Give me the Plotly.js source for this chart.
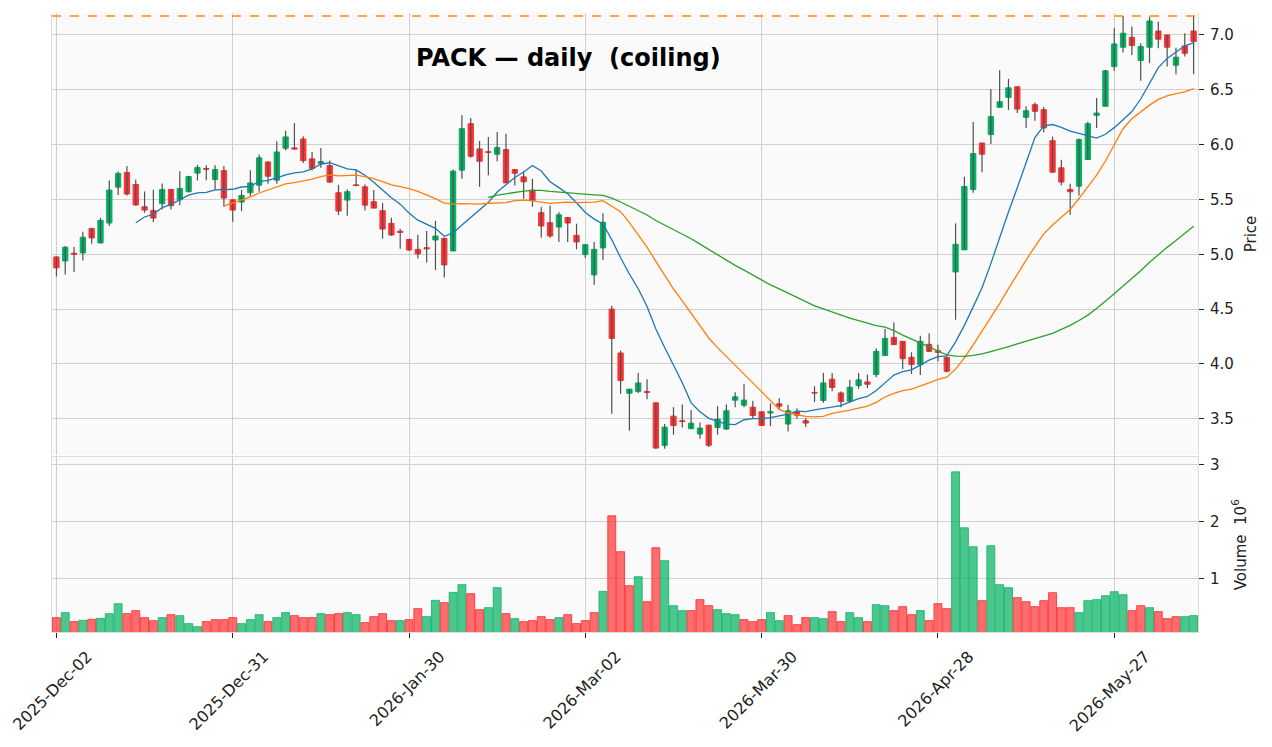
<!DOCTYPE html>
<html>
<head>
<meta charset="utf-8">
<script src="https://cdn.plot.ly/plotly-3.0.1.min.js"></script>
<style>
  html, body { margin: 0; padding: 0; background: #ffffff; }
  #chart { width: 1272px; height: 747px; }
</style>
</head>
<body>
<div id="chart"></div>
<script>
// daily OHLC, one entry per trading day (index 0 = 2025-Dec-02)
var opens = [
  4.976, 4.939, 5.010, 5.012, 5.236, 5.103, 5.285, 5.612, 5.746, 5.636,
  5.433, 5.400, 5.461, 5.591, 5.497, 5.570, 5.740, 5.782, 5.682, 5.764,
  5.497, 5.476, 5.561, 5.630, 5.842, 5.676, 5.967, 5.970, 6.051, 5.870,
  5.827, 5.809, 5.561, 5.494, 5.633, 5.615, 5.479, 5.397, 5.282, 5.210,
  5.136, 5.045, 5.060, 5.130, 5.145, 5.030, 5.767, 6.191, 5.961, 5.935,
  5.912, 5.955, 5.773, 5.706, 5.585, 5.379, 5.288, 5.248, 5.336, 5.173,
  4.997, 4.812, 5.058, 4.500, 4.100, 3.733, 3.748, 3.748, 3.645, 3.258,
  3.524, 3.482, 3.409, 3.361, 3.442, 3.421, 3.406, 3.670, 3.624, 3.606,
  3.564, 3.552, 3.636, 3.452, 3.561, 3.482, 3.740, 3.667, 3.861, 3.736,
  3.661, 3.803, 3.836, 3.903, 4.076, 4.242, 4.206, 4.061, 3.994, 4.179,
  4.121, 4.061, 4.839, 5.040, 5.591, 6.015, 6.091, 6.340, 6.430, 6.527,
  6.249, 6.364, 6.318, 6.036, 5.788, 5.591, 5.621, 5.864, 6.267, 6.349,
  6.712, 6.888, 6.979, 6.767, 6.888, 7.036, 7.000, 6.724, 6.900, 7.036
];
var highs = [
  4.980, 5.076, 5.067, 5.206, 5.240, 5.333, 5.673, 5.755, 5.806, 5.682,
  5.573, 5.588, 5.646, 5.595, 5.758, 5.715, 5.815, 5.812, 5.812, 5.806,
  5.500, 5.585, 5.767, 5.909, 5.845, 6.030, 6.127, 6.197, 6.076, 5.933,
  5.970, 5.854, 5.633, 5.591, 5.773, 5.636, 5.585, 5.469, 5.333, 5.233,
  5.140, 5.179, 5.212, 5.306, 5.150, 5.773, 6.267, 6.242, 6.033, 6.070,
  6.115, 6.100, 5.775, 5.757, 5.688, 5.433, 5.445, 5.385, 5.340, 5.279,
  5.090, 5.112, 5.373, 4.530, 4.121, 3.770, 3.918, 3.861, 3.645, 3.452,
  3.606, 3.630, 3.579, 3.467, 3.445, 3.615, 3.630, 3.742, 3.815, 3.664,
  3.565, 3.639, 3.688, 3.627, 3.597, 3.506, 3.797, 3.918, 3.918, 3.748,
  3.855, 3.918, 3.903, 4.142, 4.318, 4.379, 4.210, 4.106, 4.258, 4.279,
  4.176, 4.065, 5.282, 5.706, 6.206, 6.015, 6.506, 6.679, 6.600, 6.533,
  6.349, 6.385, 6.343, 6.073, 5.861, 5.642, 6.055, 6.209, 6.424, 6.682,
  7.061, 7.173, 7.076, 6.924, 7.167, 7.121, 7.000, 6.882, 7.015, 7.173
];
var lows = [
  4.797, 4.815, 4.839, 4.943, 5.097, 5.100, 5.258, 5.540, 5.537, 5.445,
  5.379, 5.294, 5.409, 5.409, 5.446, 5.565, 5.673, 5.676, 5.591, 5.433,
  5.297, 5.394, 5.530, 5.570, 5.642, 5.642, 5.948, 5.958, 5.833, 5.764,
  5.788, 5.651, 5.357, 5.351, 5.620, 5.400, 5.420, 5.142, 5.170, 5.051,
  5.030, 4.961, 4.924, 4.857, 4.788, 5.030, 5.688, 5.879, 5.615, 5.721,
  5.848, 5.650, 5.627, 5.506, 5.433, 5.151, 5.151, 5.112, 5.112, 5.045,
  4.967, 4.721, 4.948, 3.545, 3.727, 3.391, 3.736, 3.679, 3.227, 3.227,
  3.355, 3.421, 3.409, 3.318, 3.242, 3.355, 3.400, 3.606, 3.606, 3.500,
  3.439, 3.433, 3.582, 3.385, 3.500, 3.424, 3.652, 3.645, 3.752, 3.606,
  3.645, 3.773, 3.779, 3.879, 4.076, 4.175, 3.955, 3.909, 3.900, 4.110,
  4.024, 3.924, 4.403, 5.040, 5.561, 5.749, 6.006, 6.340, 6.315, 6.288,
  6.152, 6.218, 6.112, 5.743, 5.630, 5.360, 5.537, 5.864, 6.152, 6.349,
  6.673, 6.840, 6.818, 6.582, 6.743, 6.879, 6.712, 6.642, 6.803, 6.642
];
var closes = [
  4.876, 5.064, 5.000, 5.155, 5.149, 5.309, 5.585, 5.737, 5.549, 5.449,
  5.403, 5.330, 5.591, 5.443, 5.600, 5.709, 5.791, 5.776, 5.772, 5.512,
  5.403, 5.536, 5.651, 5.879, 5.712, 5.933, 6.070, 5.960, 5.854, 5.782,
  5.845, 5.658, 5.394, 5.570, 5.627, 5.448, 5.421, 5.230, 5.176, 5.200,
  5.039, 5.003, 5.050, 5.166, 4.903, 5.758, 6.145, 5.894, 5.848, 5.930,
  5.973, 5.651, 5.739, 5.661, 5.491, 5.258, 5.167, 5.360, 5.285, 5.112,
  5.088, 5.045, 5.291, 4.233, 3.848, 3.770, 3.827, 3.742, 3.233, 3.424,
  3.439, 3.476, 3.460, 3.415, 3.258, 3.497, 3.573, 3.700, 3.670, 3.530,
  3.439, 3.564, 3.615, 3.573, 3.533, 3.461, 3.736, 3.827, 3.785, 3.658,
  3.788, 3.855, 3.815, 4.115, 4.233, 4.176, 4.048, 3.994, 4.206, 4.115,
  4.106, 3.933, 5.091, 5.618, 5.918, 5.912, 6.255, 6.391, 6.518, 6.324,
  6.309, 6.303, 6.152, 5.749, 5.658, 5.570, 6.046, 6.191, 6.288, 6.673,
  6.918, 7.015, 6.903, 6.895, 7.127, 6.961, 6.888, 6.797, 6.833, 6.939
];
// volume in millions of shares
var volumeM = [
  0.316, 0.404, 0.246, 0.269, 0.287, 0.304, 0.386, 0.561, 0.386, 0.439,
  0.316, 0.263, 0.316, 0.368, 0.351, 0.211, 0.158, 0.246, 0.281, 0.281,
  0.316, 0.211, 0.281, 0.368, 0.246, 0.316, 0.404, 0.351, 0.316, 0.316,
  0.386, 0.368, 0.386, 0.404, 0.368, 0.228, 0.333, 0.386, 0.263, 0.263,
  0.281, 0.474, 0.333, 0.620, 0.579, 0.760, 0.895, 0.737, 0.456, 0.491,
  0.842, 0.386, 0.298, 0.246, 0.263, 0.333, 0.281, 0.316, 0.368, 0.211,
  0.263, 0.404, 0.778, 2.105, 1.474, 0.877, 1.035, 0.596, 1.544, 1.316,
  0.526, 0.439, 0.439, 0.632, 0.526, 0.456, 0.386, 0.368, 0.281, 0.246,
  0.281, 0.404, 0.263, 0.351, 0.193, 0.316, 0.316, 0.298, 0.421, 0.246,
  0.404, 0.316, 0.246, 0.544, 0.526, 0.439, 0.509, 0.368, 0.439, 0.263,
  0.561, 0.474, 2.877, 1.895, 1.561, 0.614, 1.579, 0.895, 0.842, 0.667,
  0.596, 0.509, 0.614, 0.754, 0.491, 0.491, 0.404, 0.614, 0.632, 0.702,
  0.772, 0.719, 0.439, 0.526, 0.491, 0.421, 0.298, 0.333, 0.333, 0.351
];
// x axis labels, every 20th trading day
var tickIndex = [0, 20, 40, 60, 80, 100, 120];
var tickLabels = ["2025-Dec-02", "2025-Dec-31", "2026-Jan-30", "2026-Mar-02",
                  "2026-Mar-30", "2026-Apr-28", "2026-May-27"];
var mavPeriods = [10, 20, 50];

var upColor = '#00b060';
var downColor = '#fe3032';
var mavColors = ['#1f77b4', '#ff7f0e', '#2ca02c'];

var idx = closes.map(function (c, i) { return i; });

function movingAvg(vals, n) {
  var out = [];
  for (var i = 0; i < vals.length; i++) {
    if (i < n - 1) { out.push(null); continue; }
    var s = 0;
    for (var k = i - n + 1; k <= i; k++) s += vals[k];
    out.push(s / n);
  }
  return out;
}

// wicks as thin gray segments
var wx = [], wy = [];
for (var i = 0; i < idx.length; i++) {
  wx.push(i, i, null);
  wy.push(lows[i], highs[i], null);
}
var wicks = {
  x: wx, y: wy, type: 'scatter', mode: 'lines',
  line: { color: '#505050', width: 1.2 },
  hoverinfo: 'skip', xaxis: 'x', yaxis: 'y'
};

// bodies only (high/low clipped to the body)
var bodies = {
  x: idx, type: 'candlestick',
  open: opens, close: closes,
  high: opens.map(function (o, i) { return Math.max(o, closes[i]); }),
  low: opens.map(function (o, i) { return Math.min(o, closes[i]); }),
  increasing: { line: { color: upColor, width: 1 }, fillcolor: upColor },
  decreasing: { line: { color: downColor, width: 1 }, fillcolor: downColor },
  whiskerwidth: 0, xaxis: 'x', yaxis: 'y'
};

var mavTraces = mavPeriods.map(function (n, k) {
  return {
    x: idx, y: movingAvg(closes, n), type: 'scatter', mode: 'lines',
    line: { color: mavColors[k], width: 1.3 }, xaxis: 'x', yaxis: 'y'
  };
});

// volume colours follow close vs previous close
var volFill = [], volEdge = [];
for (var i = 0; i < closes.length; i++) {
  var up = i === 0 ? closes[i] >= opens[i] : closes[i] >= closes[i - 1];
  volFill.push(up ? 'rgba(0,176,96,0.7)' : 'rgba(254,48,50,0.7)');
  volEdge.push(up ? 'rgba(0,176,96,0.75)' : 'rgba(254,48,50,0.85)');
}
var volume = {
  x: idx, y: volumeM, type: 'bar', width: 0.9,
  marker: { color: volFill, line: { color: volEdge, width: 1 } },
  xaxis: 'x', yaxis: 'y2'
};

var maxHigh = Math.max.apply(null, highs);

var font = 'DejaVu Sans, sans-serif';
var data = [wicks, bodies].concat(mavTraces).concat([volume]);
var layout = {
  width: 1272, height: 747,
  margin: { l: 52, r: 74, t: 13, b: 115 },
  paper_bgcolor: '#ffffff',
  plot_bgcolor: '#fafafa',
  showlegend: false,
  bargap: 0,
  boxgap: 0.4,
  boxgroupgap: 0,
  font: { family: font, size: 15, color: '#222222' },
  xaxis: {
    range: [-0.5, 129.5], anchor: 'y2',
    tickvals: tickIndex, ticktext: tickLabels, tickangle: -45,
    ticks: 'outside', ticklen: 5, tickcolor: '#222222',
    ticklabeloverflow: 'allow', ticklabelshift: 31, ticklabelstandoff: 3,
    showgrid: true, gridcolor: '#d0d0d0', gridwidth: 1,
    showline: true, linecolor: '#dcdcdc', mirror: true,
    zeroline: false, rangeslider: { visible: false },
    tickfont: { size: 16 }
  },
  yaxis: {
    domain: [0.286, 1], side: 'right', range: [3.17, 7.2],
    dtick: 0.5, tick0: 0, tickformat: '.1f',
    ticks: 'outside', ticklen: 5, tickcolor: '#222222', ticklabelstandoff: 3,
    showgrid: true, gridcolor: '#d0d0d0', gridwidth: 1,
    showline: true, linecolor: '#dcdcdc', mirror: true, zeroline: false,
    title: { text: 'Price', font: { size: 15 }, standoff: 12 }
  },
  yaxis2: {
    domain: [0, 0.282], side: 'right', range: [0.064, 3.13],
    tickvals: [1, 2, 3], ticktext: ['1', '2', '3'],
    ticks: 'outside', ticklen: 5, tickcolor: '#222222', ticklabelstandoff: 3,
    showgrid: true, gridcolor: '#d0d0d0', gridwidth: 1,
    showline: true, linecolor: '#dcdcdc', mirror: true, zeroline: false,
    title: { text: 'Volume  10<sup>6</sup>', font: { size: 15 }, standoff: 16 }
  },
  shapes: [{
    type: 'line', xref: 'paper', x0: 0, x1: 1, yref: 'y', y0: maxHigh, y1: maxHigh,
    line: { color: '#ff8c00', width: 1.6, dash: 'dash' }
  }],
  annotations: [{
    text: '<b>PACK \u2014 daily \u00a0(coiling)</b>',
    xref: 'paper', yref: 'paper', x: 0.451, y: 0.927,
    xanchor: 'center', yanchor: 'middle', showarrow: false,
    font: { family: font, size: 24, color: '#000000' }
  }]
};

Plotly.newPlot('chart', data, layout, { displayModeBar: false, staticPlot: true });
</script>
</body>
</html>
